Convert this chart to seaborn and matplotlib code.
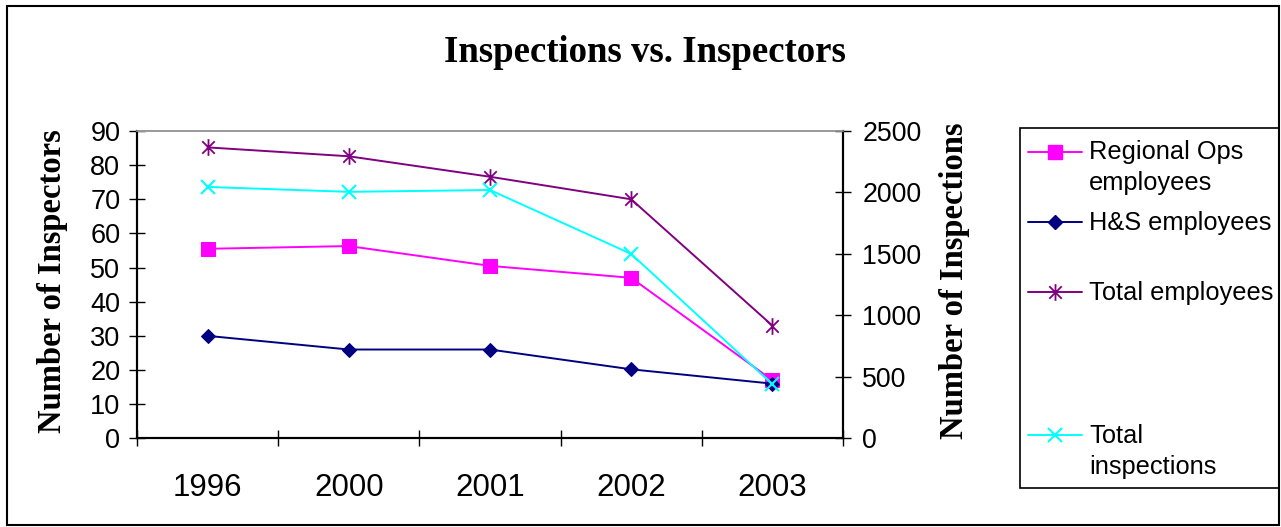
import matplotlib
import matplotlib.pyplot as plt
import numpy as np
import pandas as pd
import seaborn as sns
from matplotlib.lines import Line2D
from matplotlib.patches import Rectangle
from matplotlib.path import Path

matplotlib.use("Agg")

# ---------------------------------------------------------------------------
# Data
# ---------------------------------------------------------------------------
years             = ["1996", "2000", "2001", "2002", "2003"]
regional_ops      = [55.5, 56.3, 50.5, 47.0, 17.0]
hs_employees      = [30.0, 26.0, 26.0, 20.2, 16.0]
total_employees   = [85.2, 82.6, 76.6, 70.0, 33.0]
total_inspections = [2045, 2005, 2020, 1500, 440]

left_ticks  = list(range(0, 91, 10))
right_ticks = list(range(0, 2501, 500))

MAGENTA = "#FF00FF"
NAVY    = "#000080"
PURPLE  = "#800080"
CYAN    = "#00FFFF"

SANS  = ["Liberation Sans", "DejaVu Sans"]
SERIF = ["Liberation Serif", "DejaVu Serif"]

W, H = 1281, 527


def fx(px):
    return px / W


def fy(py):
    return 1 - py / H


# Excel-style asterisk: vertical bar plus an X
ASTERISK = Path(
    [(0, -1), (0, 1), (-0.75, -0.75), (0.75, 0.75), (-0.75, 0.75), (0.75, -0.75)],
    [Path.MOVETO, Path.LINETO, Path.MOVETO, Path.LINETO, Path.MOVETO, Path.LINETO],
)

df = pd.DataFrame({
    "year":        years,
    "regional":    regional_ops,
    "hs":          hs_employees,
    "total_emp":   total_employees,
    "inspections": total_inspections,
})

sns.set_style("white")
plt.rcParams["font.family"] = SANS
plt.rcParams.update({
    "text.color": "black",
    "axes.labelcolor": "black",
    "xtick.color": "black",
    "ytick.color": "black",
    "xtick.bottom": True,
    "ytick.left": True,
    "ytick.direction": "inout",
    "xtick.direction": "inout",
    "xtick.major.size": 12,
    "ytick.major.size": 12,
    "xtick.major.width": 1.0,
    "ytick.major.width": 1.0,
})

fig = plt.figure(figsize=(W / 100, H / 100), dpi=100)
ax = fig.add_axes([fx(137), fy(438.3), fx(843) - fx(137), fy(131) - fy(438.3)])
ax2 = ax.twinx()

line_kw = dict(linewidth=1.4, sort=False)
sns.lineplot(data=df, x="year", y="regional", ax=ax, color=MAGENTA, marker="s",
             markersize=9.5, markeredgecolor=MAGENTA, **line_kw)
sns.lineplot(data=df, x="year", y="hs", ax=ax, color=NAVY, marker="D",
             markersize=7.5, markeredgecolor=NAVY, **line_kw)
sns.lineplot(data=df, x="year", y="total_emp", ax=ax, color=PURPLE, marker=ASTERISK,
             markersize=12, markeredgecolor=PURPLE, markerfacecolor="none",
             markeredgewidth=1.3, **line_kw)
sns.lineplot(data=df, x="year", y="inspections", ax=ax2, color=CYAN, marker="x",
             markersize=10, markeredgecolor=CYAN, markeredgewidth=1.5, **line_kw)

# Axes limits / ticks
ax.set_xlim(-0.5, len(years) - 0.5)
ax.set_ylim(0, 90)
ax2.set_ylim(0, 2500)
ax.set_yticks(left_ticks)
ax2.set_yticks(right_ticks)

ax.set_xticks(np.arange(-0.5, len(years), 1.0))
ax.set_xticklabels([])
ax.set_xticks(np.arange(len(years)), minor=True)
ax.set_xticklabels(years, minor=True)
ax.tick_params(axis="x", which="major", bottom=True, direction="inout", length=12,
               width=1.0, color="black")
ax.tick_params(axis="x", which="minor", bottom=True, length=0, pad=25, labelsize=22.5)
ax.tick_params(axis="y", which="major", left=True, right=False, direction="inout",
               length=12, width=1.0, color="black", labelsize=19.5, pad=6)
ax2.tick_params(axis="y", which="major", right=True, left=False, direction="inout",
                length=12, width=1.0, color="black", labelsize=19.3, pad=8)

for a in (ax, ax2):
    a.set_xlabel("")
    a.set_ylabel("")
    a.grid(False)
    for side in ("left", "bottom", "right"):
        a.spines[side].set_color("black")
        a.spines[side].set_linewidth(1.5)
    a.spines["top"].set_color("#999999")
    a.spines["top"].set_linewidth(1.2)

# Titles
fig.text(fx(645), fy(52), "Inspections vs. Inspectors", ha="center", va="center",
         fontsize=26.5, fontweight="bold", family=SERIF)
fig.text(fx(52), fy(281), "Number of Inspectors", rotation=90, ha="center", va="center",
         fontsize=23.5, fontweight="bold", family=SERIF)
fig.text(fx(954), fy(281), "Number of Inspections", rotation=90, ha="center", va="center",
         fontsize=23.5, fontweight="bold", family=SERIF)

# Legend, laid out like the Excel one
fig.add_artist(Rectangle((fx(1020), fy(488)), fx(1279) - fx(1020), fy(128) - fy(488),
                         transform=fig.transFigure, fill=False, edgecolor="black",
                         linewidth=1.2))
legend_rows = [
    (MAGENTA, "s", 9.5, 151.7, ["Regional Ops", "employees"], [159.3, 190], {}),
    (NAVY, "D", 7.5, 221.7, ["H&S employees"], [230], {}),
    (PURPLE, ASTERISK, 12, 291.7, ["Total employees"], [300],
     dict(markerfacecolor="none", markeredgewidth=1.3)),
    (CYAN, "x", 10, 435, ["Total", "inspections"], [443.3, 474], dict(markeredgewidth=1.5)),
]
for color, mk, ms, hy, lines, baselines, extra in legend_rows:
    fig.add_artist(Line2D([fx(1028), fx(1082)], [fy(hy), fy(hy)], transform=fig.transFigure,
                          color=color, linewidth=1.4))
    fig.add_artist(Line2D([fx(1055)], [fy(hy)], transform=fig.transFigure, color=color,
                          marker=mk, markersize=ms, markeredgecolor=color, linestyle="none",
                          **extra))
    for txt, by in zip(lines, baselines):
        fig.text(fx(1089), fy(by), txt, ha="left", va="baseline", fontsize=18.3)

# Outer chart border
fig.add_artist(Rectangle((fx(7), fy(525)), fx(1279) - fx(7), fy(6) - fy(525),
                         transform=fig.transFigure, fill=False, edgecolor="black",
                         linewidth=1.5))

fig.savefig("out.png", dpi=100, facecolor="white")
plt.close(fig)
